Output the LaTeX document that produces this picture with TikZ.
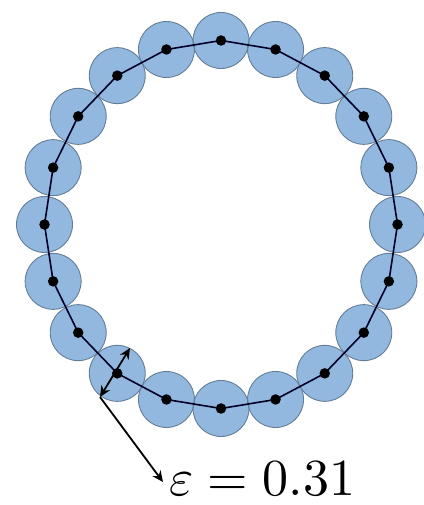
\documentclass[tikz,border=0pt]{standalone}
\usepackage{graphicx}
\usetikzlibrary{arrows.meta}
\definecolor{beadfill}{RGB}{146,184,224}
\definecolor{beadline}{RGB}{100,125,150}
\tikzset{
  beadfillstyle/.style={fill=beadfill, draw=none},
  beadedge/.style={draw=beadline, line width=0.9pt},
  chain/.style={draw=black!85!blue, line width=1.6pt},
  dotstyle/.style={circle, fill=black, inner sep=0pt, minimum size=10.5pt},
  dimarrow/.style={line width=1.8pt, {Stealth[length=11pt,width=10pt]}-{Stealth[length=11pt,width=10pt]}},
  leadarrow/.style={line width=1.8pt, -{Stealth[length=11pt,width=10pt]}}
}
\begin{document}
\begin{tikzpicture}[x=1pt,y=1pt]
\useasboundingbox (0,0) rectangle (423,505);
% bead centres on a slightly oval ring
\foreach \i in {0,...,19}{
  \coordinate (p\i) at ({221+176.5*cos(90-18*\i)},{280.5+184*sin(90-18*\i)});
}
\foreach \i in {0,...,19}{
  \fill[beadfillstyle] (p\i) circle (28);
}
\foreach \i in {0,...,19}{
  \draw[beadedge] (p\i) circle (28);
}
\draw[chain] (p0) \foreach \i in {1,...,19}{ -- (p\i) } -- cycle;
\foreach \i in {0,...,19}{
  \node[dotstyle] (d\i) at (p\i) {};
}
% epsilon dimension
\coordinate (a1) at (100,108);
\coordinate (a2) at (130,157);
\coordinate (a3) at (163,23);
\draw[dimarrow] (a1) -- (a2);
\draw[leadarrow] (a1) -- (a3);
\node[anchor=base west, inner sep=0pt] (eps) at (169,9)
  {\scalebox{5.2}{$\varepsilon = 0.31$}};
\end{tikzpicture}
\end{document}
